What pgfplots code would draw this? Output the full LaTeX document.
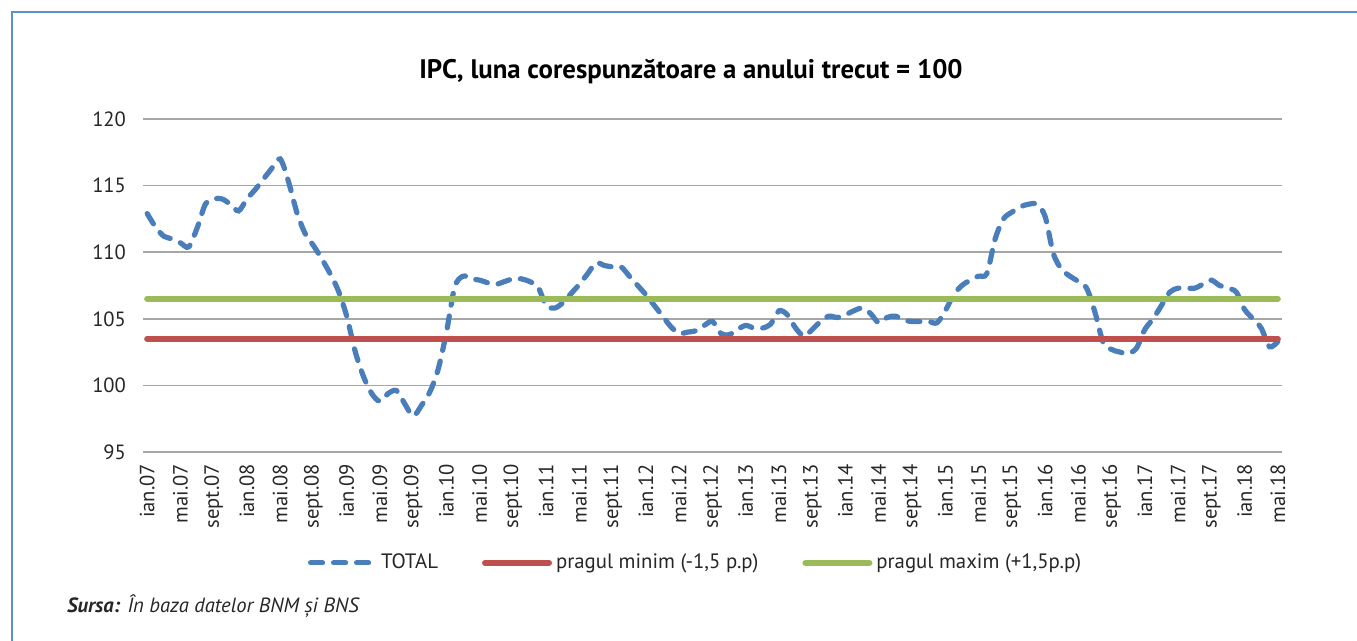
\documentclass[border=0pt]{standalone}
\usepackage{fontspec}
\setmainfont{PT Sans}
\usepackage{pgfplots}
\pgfplotsset{compat=1.18}
\definecolor{totalblue}{HTML}{4A7EBB}
\definecolor{minred}{HTML}{C0504D}
\definecolor{maxgreen}{HTML}{9BBB59}
\definecolor{framecol}{HTML}{5B8FD0}
\definecolor{gridcol}{HTML}{A6A6A6}
\definecolor{txt}{HTML}{262626}

\begin{document}
\begin{tikzpicture}
\useasboundingbox (0,0) rectangle (678.5pt,320.5pt);
\draw[framecol,line width=1pt] (6pt,-10pt) |- (690pt,314.5pt);
\node[font=\fontsize{13.4}{15}\selectfont\bfseries,text=black] at (345.5pt,284.5pt)
  {IPC, luna corespunzătoare a anului trecut = 100};
\node[anchor=base west,font=\fontsize{10.3}{12}\selectfont\itshape,text=txt] at (30pt,14pt)
  {\textbf{Sursa:} În baza datelor BNM și BNS};
\begin{axis}[
  at={(71.5pt,94.5pt)}, anchor=south west,
  scale only axis, width=569.5pt, height=166.5pt,
  xmin=-0.5, xmax=136.5, ymin=95, ymax=120,
  ytick={95,100,...,120},
  xtick={0,4,...,136},
  xticklabels={ian.07,mai.07,sept.07,ian.08,mai.08,sept.08,ian.09,mai.09,sept.09,
    ian.10,mai.10,sept.10,ian.11,mai.11,sept.11,ian.12,mai.12,sept.12,
    ian.13,mai.13,sept.13,ian.14,mai.14,sept.14,ian.15,mai.15,sept.15,
    ian.16,mai.16,sept.16,ian.17,mai.17,sept.17,ian.18,mai.18},
  major tick length=0pt,
  axis line style={draw=none},
  ymajorgrids,
  grid style={gridcol,line width=0.75pt},
  tick label style={font=\fontsize{10.3}{12}\selectfont,text=txt},
  /pgf/number format/assume math mode=true,
  yticklabel style={xshift=-5pt},
  xticklabel style={rotate=90,anchor=east,xshift=-2.5pt},
  legend style={at={(0.486,-0.333)},anchor=center,draw=none,fill=none,
    legend columns=3,font=\fontsize{10.4}{12}\selectfont,text=txt,
    /tikz/every even column/.append style={column sep=20pt}},
  legend image code/.code={\draw[#1] (0pt,0pt) -- (32pt,0pt);},
]
\addplot[totalblue,line width=2.6pt,line cap=round,dash pattern=on 6pt off 5.5pt,smooth,tension=0.5]
  coordinates {
  (0,112.9) (1,111.9) (2,111.2) (3,111.0) (4,110.7) (5,110.4) (6,111.8) (7,113.6)
  (8,114.0) (9,114.0) (10,113.6) (11,113.1) (12,114.0) (13,114.7) (14,115.5) (15,116.3)
  (16,117.0) (17,115.3) (18,113.0) (19,111.4) (20,110.5) (21,109.5) (22,108.4) (23,107.1)
  (24,105.2) (25,102.6) (26,100.7) (27,99.4) (28,98.8) (29,99.4) (30,99.6) (31,98.6)
  (32,97.7) (33,98.5) (34,99.5) (35,101.2) (36,104.0) (37,107.4) (38,108.2) (39,108.0)
  (40,107.9) (41,107.7) (42,107.6) (43,107.8) (44,108.0) (45,108.0) (46,107.8) (47,107.4)
  (48,106.0) (49,105.8) (50,106.2) (51,106.9) (52,107.6) (53,108.4) (54,109.2) (55,109.0)
  (56,108.9) (57,108.9) (58,108.2) (59,107.5) (60,106.8) (61,106.0) (62,105.2) (63,104.4)
  (64,103.9) (65,104.0) (66,104.1) (67,104.5) (68,104.8) (69,103.9) (70,103.8) (71,104.2)
  (72,104.5) (73,104.3) (74,104.3) (75,104.6) (76,105.6) (77,105.3) (78,104.3) (79,103.7)
  (80,104.2) (81,104.8) (82,105.2) (83,105.1) (84,105.3) (85,105.6) (86,105.8) (87,105.4)
  (88,104.7) (89,105.1) (90,105.2) (91,104.9) (92,104.8) (93,104.8) (94,104.8) (95,104.7)
  (96,105.6) (97,106.8) (98,107.5) (99,107.9) (100,108.2) (101,108.4) (102,111.0) (103,112.5)
  (104,113.0) (105,113.4) (106,113.6) (107,113.6) (108,112.7) (109,109.9) (110,108.7) (111,108.2)
  (112,107.8) (113,107.3) (114,105.5) (115,103.2) (116,102.7) (117,102.5) (118,102.4) (119,102.8)
  (120,104.2) (121,105.0) (122,106.0) (123,107.0) (124,107.3) (125,107.3) (126,107.3) (127,107.6)
  (128,107.9) (129,107.5) (130,107.3) (131,107.0) (132,105.7) (133,105.0) (134,104.3) (135,102.9)
  (136,103.3)};
\addlegendentry{TOTAL}
\addplot[minred,line width=3pt,line cap=round] coordinates {(0,103.5) (136,103.5)};
\addlegendentry{pragul minim (-1,5 p.p)}
\addplot[maxgreen,line width=3pt,line cap=round] coordinates {(0,106.5) (136,106.5)};
\addlegendentry{pragul maxim (+1,5p.p)}
\end{axis}
\end{tikzpicture}
\end{document}
